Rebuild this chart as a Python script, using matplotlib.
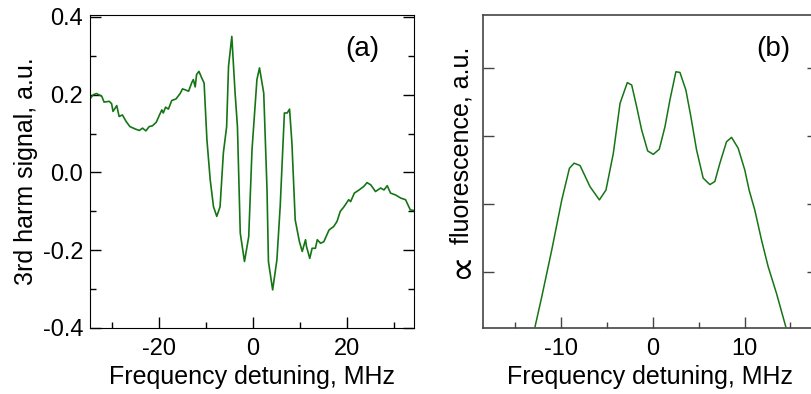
import matplotlib
matplotlib.use("Agg")
import matplotlib.pyplot as plt
from matplotlib.ticker import MultipleLocator, NullFormatter

plt.rcParams['font.family'] = ['Liberation Sans', 'DejaVu Sans']
plt.rcParams['axes.unicode_minus'] = False

# (a) 3rd harmonic signal
det_a = [-34.6, -34.0, -33.3, -32.2, -31.7, -30.6, -30.1, -29.8, -29.0, -28.5,
         -27.8, -27.0, -26.2, -25.1, -24.2, -23.5, -22.8, -22.1, -21.4, -20.6,
         -19.9, -19.4, -19.1, -18.6, -18.0, -17.3, -16.4, -15.5, -15.0, -14.3,
         -13.7, -13.0, -12.7, -12.3, -12.0, -11.5, -10.9, -10.4, -9.8, -9.1,
         -8.4, -7.7, -7.0, -6.3, -5.6, -5.2, -4.5, -3.8, -3.3, -2.7,
         -1.8, -0.9, -0.2, 0.85, 1.4, 2.3, 3.0, 3.3, 4.2, 5.1,
         5.8, 6.7, 7.3, 7.8, 8.3, 9.0, 9.9, 10.5, 11.2, 11.4,
         12.1, 12.6, 13.3, 13.7, 14.4, 15.1, 16.2, 17.2, 17.9, 18.6,
         19.4, 20.4, 20.8, 21.6, 22.6, 23.6, 24.3, 25.1, 26.1, 27.2,
         27.9, 28.6, 29.3, 30.4, 31.5, 32.5, 33.5, 34.3]
sig_a = [0.191, 0.200, 0.203, 0.196, 0.181, 0.183, 0.177, 0.157, 0.172, 0.144,
         0.148, 0.131, 0.118, 0.112, 0.108, 0.114, 0.107, 0.118, 0.120, 0.129,
         0.148, 0.161, 0.153, 0.168, 0.163, 0.185, 0.189, 0.203, 0.215, 0.212,
         0.209, 0.232, 0.239, 0.220, 0.252, 0.260, 0.243, 0.230, 0.084, -0.019,
         -0.088, -0.113, -0.088, 0.050, 0.118, 0.273, 0.350, 0.204, 0.118, -0.156,
         -0.229, -0.165, 0.058, 0.239, 0.269, 0.204, -0.045, -0.229, -0.302, -0.225,
         -0.088, 0.153, 0.153, 0.163, 0.076, -0.122, -0.178, -0.203, -0.173, -0.190,
         -0.221, -0.195, -0.195, -0.173, -0.182, -0.178, -0.148, -0.139, -0.126, -0.100,
         -0.088, -0.070, -0.075, -0.053, -0.045, -0.036, -0.026, -0.032, -0.049, -0.040,
         -0.045, -0.034, -0.053, -0.058, -0.066, -0.070, -0.096, -0.098]

# (b) fluorescence
det_b = [-12.8, -12.07, -10.98, -9.89, -9.06, -8.55, -7.9, -6.82, -5.8, -5.08,
         -4.28, -3.55, -2.76, -2.28, -1.74, -1.2, -0.54, 0.07, 0.72, 1.34,
         1.88, 2.53, 2.97, 3.62, 4.16, 4.78, 5.5, 6.23, 6.77, 7.32,
         8.04, 8.59, 9.31, 10.03, 10.5, 11.12, 11.85, 12.57, 13.48, 14.49]
fluo_b = [0.239, 0.327, 0.465, 0.612, 0.705, 0.720, 0.713, 0.651, 0.612, 0.641,
          0.749, 0.896, 0.957, 0.950, 0.886, 0.818, 0.756, 0.746, 0.761, 0.827,
          0.906, 0.989, 0.987, 0.935, 0.857, 0.759, 0.676, 0.657, 0.666, 0.720,
          0.783, 0.796, 0.764, 0.700, 0.641, 0.582, 0.494, 0.416, 0.337, 0.239]

green = '#157515'
fs = 17     # tick labels
lfs = 18    # axis labels

fig = plt.figure(figsize=(8.12, 3.94), dpi=100)
W, H = 812.0, 394.0

ax1 = fig.add_axes([90 / W, (394 - 328) / H, 324 / W, 313 / H])
ax1.plot(det_a, sig_a, color=green, lw=1.2)
ax1.set_xlim(-34.7, 34.3)
ax1.set_ylim(-0.4, 0.405)
ax1.xaxis.set_major_locator(MultipleLocator(20))
ax1.xaxis.set_minor_locator(MultipleLocator(10))
ax1.yaxis.set_major_locator(MultipleLocator(0.2))
ax1.yaxis.set_minor_locator(MultipleLocator(0.1))
ax1.yaxis.set_major_formatter(plt.FuncFormatter(lambda v, p: f"{v:.1f}"))
ax1.tick_params(which='both', direction='in', top=False, right=True, labelsize=fs, width=1)
ax1.tick_params(which='major', length=8)
ax1.tick_params(which='minor', length=4)
ax1.tick_params(axis='x', pad=7)
ax1.tick_params(axis='y', pad=5)
ax1.set_xlabel("Frequency detuning, MHz", fontsize=lfs, labelpad=4)
ax1.set_ylabel("3rd harm signal, a.u.", fontsize=lfs, labelpad=3)
ax1.text(0.842, 0.89, "(a)", transform=ax1.transAxes, fontsize=20,
         ha='center', va='center')

ax2 = fig.add_axes([482.7 / W, (394 - 328) / H, (818 - 482.7) / W, 313 / H])
ax2.plot(det_b, fluo_b, color=green, lw=1.1)
ax2.set_xlim(-18.5, 18.0)
ax2.set_ylim(0.235, 1.156)
ax2.xaxis.set_major_locator(MultipleLocator(10))
ax2.xaxis.set_minor_locator(MultipleLocator(5))
ax2.yaxis.set_major_locator(MultipleLocator(0.2))
ax2.yaxis.set_major_formatter(NullFormatter())
ax2.tick_params(which='both', direction='in', top=False, right=True, labelsize=fs,
                width=1, color='#444444')
ax2.tick_params(which='major', length=8)
ax2.tick_params(which='minor', length=4)
ax2.tick_params(axis='x', pad=7)
for s in ax2.spines.values():
    s.set_color('#444444')
    s.set_linewidth(1.2)
ax2.set_xlabel("Frequency detuning, MHz", fontsize=lfs, labelpad=4)
# y label: large proportional sign followed by the text
fig.text(462 / W, 1 - 145 / H, "fluorescence, a.u.", rotation=90, fontsize=lfs,
         ha='center', va='center')
fig.text(462 / W, 1 - 265 / H, "\u221d", rotation=90, fontsize=27,
         family=['DejaVu Sans'], ha='center', va='center')
ax2.text(0.866, 0.89, "(b)", transform=ax2.transAxes, fontsize=20,
         ha='center', va='center')

fig.savefig("out.png", dpi=100)
